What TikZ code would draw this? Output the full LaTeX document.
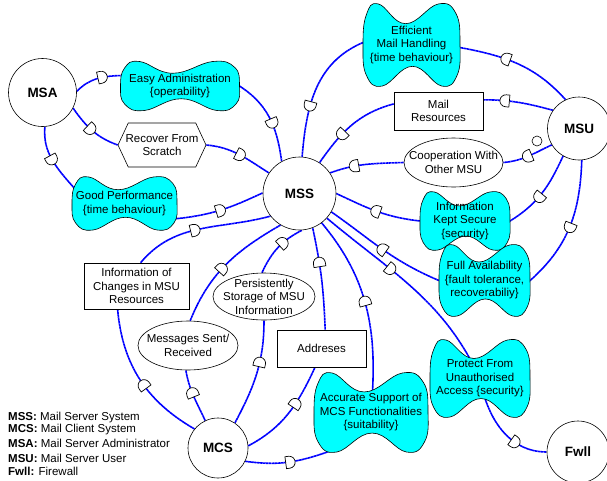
\documentclass[tikz,border=0pt]{standalone}
\usepackage{fontspec}
\setmainfont{Liberation Sans}
\usepackage{tikz}
\usetikzlibrary{shapes.geometric,shapes.symbols,decorations.markings}

\definecolor{sgcyan}{RGB}{0,255,255}

\pgfdeclarelayer{links}
\pgfdeclarelayer{goals}
\pgfsetlayers{links,goals,main}

% the D of a dependency link
\newcommand\dsym{\draw[black,solid,fill=white,line width=.7pt]
  (-3.5pt,-6pt) -- (-3.5pt,6pt) -- (0pt,6pt)
  arc[start angle=90,end angle=-90,radius=6pt] -- cycle;}

\tikzset{
  actor/.style={circle,draw,fill=white,line width=.6pt,minimum size=#1,
    font=\fontsize{13.5}{15}\selectfont\bfseries},
  resource/.style={rectangle,draw,fill=white,line width=.6pt,align=center,inner sep=2pt},
  goal/.style={ellipse,draw,fill=white,line width=.6pt,align=center,
    inner xsep=-15pt,inner ysep=-6pt},
  task/.style={signal,signal to=west and east,signal pointer angle=130,draw,
    fill=white,line width=.6pt,align=center,inner xsep=-4pt},
  softgoal/.style 2 args={rectangle,align=center,minimum width=#1,minimum height=#2},
  sgshape/.style={draw=black,fill=sgcyan,line width=.6pt},
  dep/.style={draw=blue,line width=1.6pt,dash pattern=on 2.6pt off .4pt,
    postaction={decorate,decoration={markings,mark=at position #1 with {\dsym}}}},
  into/.style={shorten >=-6pt},
  outof/.style={shorten <=-6pt},
}

\begin{document}
\begin{tikzpicture}[x=1pt,y=1pt,font=\fontsize{11.5}{13.5}\selectfont]
  \useasboundingbox (0,0) rectangle (607,-480);

  % actors
  \node[actor=68pt] (msa) at (42.5,-92.5) {MSA};
  \node[actor=73pt] (mss) at (299.5,-193.5) {MSS};
  \node[actor=63pt] (msu) at (579,-128.5) {MSU};
  \node[actor=60pt] (mcs) at (218,-448) {MCS};
  \node[actor=62pt] (fwll) at (578,-452) {Fwll};

  % dependums
  \node[softgoal={119pt}{49pt}] (ea) at (180,-86) {Easy Administration\\\{operability\}};
  \node[task,minimum width=88pt,minimum height=44pt] (rfs) at (162,-145) {Recover From\\Scratch};
  \node[softgoal={105pt}{53pt}] (gp) at (124.5,-203.5) {Good Performance\\\{time behaviour\}};
  \node[softgoal={97pt}{82pt}] (emh) at (411.5,-45) {Efficient\\Mail Handling\\\{time behaviour\}};
  \node[resource,minimum width=89pt,minimum height=38pt] (mres) at (438.5,-111) {Mail\\Resources};
  \node[goal,minimum width=99pt,minimum height=49pt] (coop) at (453.5,-162.5) {Cooperation With\\Other MSU};
  \node[draw,circle,line width=.6pt,minimum size=10pt,inner sep=0pt] (dot) at (537,-141) {};
  \node[softgoal={90pt}{58pt}] (iks) at (465,-221) {Information\\Kept Secure\\\{security\}};
  \node[softgoal={91pt}{71pt}] (fa) at (484.5,-280.5) {Full Availability\\\{fault tolerance,\\recoverabiliy\}};
  \node[softgoal={100pt}{77pt}] (pfua) at (480,-378.5) {Protect From\\Unauthorised\\Access \{security\}};
  \node[softgoal={114pt}{79pt}] (as) at (371,-412.5) {Accurate Support of\\MCS Functionalities\\\{suitability\}};
  \node[resource,minimum width=89pt,minimum height=37pt] (addr) at (321.5,-348.5) {Addreses};
  \node[goal,minimum width=102pt,minimum height=47pt] (ps) at (264,-296.5) {Persistently\\Storage of MSU\\Information};
  \node[goal,minimum width=100pt,minimum height=49pt] (msr) at (188,-345.5) {Messages Sent/\\Received};
  \node[resource,minimum width=105pt,minimum height=46pt] (ioc) at (136.5,-286) {Information of\\Changes in MSU\\Resources};

  % legend
  \foreach \abbr/\desc/\ypos [count=\i] in {MSS/Mail Server System/418,MCS/Mail Client System/430,
      MSA/Mail Server Administrator/443,MSU/Mail Server User/458,Fwll/Firewall/471}
    \node[anchor=west,inner sep=0pt] (key\i) at (8,-\ypos) {\textbf{\abbr:} \desc};

  % dependency links
  \begin{pgfonlayer}{links}
    \draw[dep=.6,into] (msa.2) to[out=45,in=180] (ea.170);
    \draw[dep=.55,outof] (ea.east) to[out=-30,in=98] (mss.119);
    \draw[dep=.45] (msa.-27) to[out=-55,in=160] (rfs.west);
    \draw[dep=.5] (rfs.east) to[out=-5,in=148] (mss.146);
    \draw[dep=.5,into] (msa.-86) to[out=-95,in=132] (gp.161);
    \draw[dep=.48,outof] (gp.-16) to[out=5,in=205] (mss.179);

    \draw[dep=.45] (mcs.141) to[out=150,in=-85] (ioc.231);
    \draw[dep=.45] (ioc.80) to[out=50,in=195] (mss.218);
    \draw[dep=.55] (mcs.115) to[out=115,in=-80] (msr.265);
    \draw[dep=.45] (msr.85) to[out=68,in=210] (mss.239);
    \draw[dep=.6] (mcs.56) to[out=62,in=-90] (ps.270);
    \draw[dep=.6] (ps.95) to[out=65,in=207] (mss.274);
    \draw[dep=.6] (mcs.4) to[out=28,in=-115] (addr.251);
    \draw[dep=.65] (addr.79) to[out=92,in=-78] (mss.291);
    \draw[dep=.53,into] (mcs.-26) to[out=-8,in=200] (as.222);
    \draw[dep=.55] (as.center) to[out=85,in=-50] (mss.307);

    \draw[dep=.36] (mss.318) to[out=-40,in=115] (pfua.center);
    \draw[dep=.68] (pfua.center) to[out=-80,in=180] (fwll.180);

    \draw[dep=.5,into] (msu.-85) to[out=-92,in=40] (fa.east);
    \draw[dep=.5,outof] (fa.west) to[out=158,in=-35] (mss.330);
    \draw[dep=.55,into] (msu.240) to[out=245,in=30] (iks.east);
    \draw[dep=.5,outof] (iks.west) to[out=175,in=-25] (mss.0);
    \draw[dep=.5] (msu.211) to[out=205,in=5] (coop.east);
    \draw[dep=.65] (coop.west) to[out=182,in=20] (mss.34);
    \draw[dep=.68] (msu.145) to[out=165,in=0] (mres.14);
    \draw[dep=.62] (mres.171) to[out=195,in=55] (mss.57);
    \draw[dep=.6,into] (msu.115) to[out=132,in=-10] (emh.-3);
    \draw[dep=.62,outof] (emh.177) to[out=200,in=85] (mss.86);
  \end{pgfonlayer}

  % softgoal clouds
  \begin{pgfonlayer}{goals}
    \foreach \n/\a/\b in {ea/59.5/24.5,gp/52.5/26.5,emh/48.5/41,iks/45/29,
                          fa/45.5/35.5,pfua/50/38.5,as/57/39.5}
      \draw[sgshape,shift={(\n.center)}] plot[smooth cycle,tension=.75] coordinates {
        (-\a,0) ({-.93*\a},{.74*\b}) ({-.68*\a},\b) ({-.12*\a},{.52*\b})
        ({.55*\a},\b) ({.92*\a},{.76*\b}) (\a,0) ({.94*\a},{-.74*\b})
        ({.62*\a},-\b) ({.02*\a},{-.52*\b}) ({-.6*\a},-\b) ({-.93*\a},{-.74*\b})};
  \end{pgfonlayer}
\end{tikzpicture}
\end{document}
